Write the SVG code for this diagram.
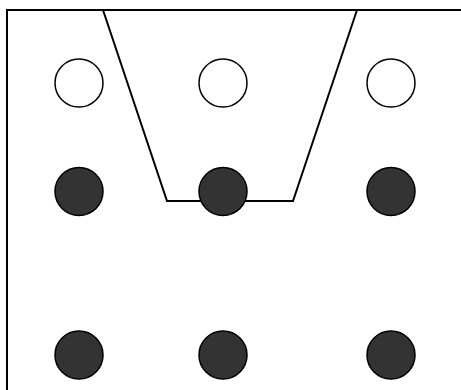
<svg xmlns="http://www.w3.org/2000/svg" width="461" height="390" viewBox="0 0 461 390">
<style>
.frame{fill:none;stroke:#000;stroke-width:2}
.open{fill:#fff;stroke:#000;stroke-width:1.5}
.dark{fill:#333;stroke:#000;stroke-width:1.5}
</style>
<rect width="461" height="390" fill="#fff"/>
<g id="frame"><polyline class="frame" points="7,390 7,10 461,10"/></g>
<g id="connectors"><polyline class="frame" points="103,10 167,201 293,201 357,10"/></g>
<g id="n1"><circle class="open" cx="79" cy="83" r="24"/></g>
<g id="n2"><circle class="open" cx="223" cy="83" r="24"/></g>
<g id="n3"><circle class="open" cx="391" cy="83" r="24"/></g>
<g id="n4"><circle class="dark" cx="79" cy="191.5" r="24"/></g>
<g id="n5"><circle class="dark" cx="223" cy="191.5" r="24"/></g>
<g id="n6"><circle class="dark" cx="391" cy="191.5" r="24"/></g>
<g id="n7"><circle class="dark" cx="79" cy="355" r="24"/></g>
<g id="n8"><circle class="dark" cx="223" cy="355" r="24"/></g>
<g id="n9"><circle class="dark" cx="391" cy="355" r="24"/></g>
</svg>
